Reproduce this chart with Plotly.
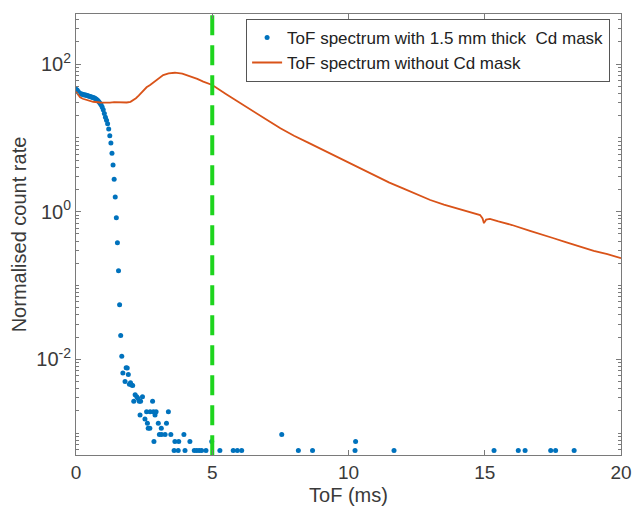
import plotly.graph_objects as go

# ---- Data ----
# ToF spectrum WITH 1.5 mm Cd mask (blue dots)
mask_t = [0.00, 0.04, 0.08, 0.12, 0.16, 0.20, 0.24, 0.28, 0.32, 0.36, 0.40, 0.44,
          0.48, 0.52, 0.56, 0.60, 0.64, 0.68, 0.72, 0.76, 0.80, 0.84, 0.88, 0.92,
          0.96, 1.00, 1.04, 1.08, 1.12, 1.16, 1.20, 1.24, 1.28, 1.32, 1.36, 1.40,
          1.44, 1.48, 1.52, 1.56, 1.60, 1.64, 1.68,
          1.72, 1.80, 1.84, 1.88, 1.92, 1.96, 2.00, 2.04, 2.08, 2.12, 2.17, 2.23,
          2.28, 2.32, 2.35, 2.37, 2.44, 2.53, 2.59, 2.62, 2.65, 2.71, 2.72, 2.81,
          2.84, 2.86, 2.90, 2.94, 3.02, 3.06, 3.13, 3.14, 3.27, 3.32, 3.39, 3.48,
          3.60, 3.63, 3.75, 3.77, 3.96, 4.00, 4.18, 4.34, 4.43, 4.52, 4.61, 4.77,
          4.98, 5.28, 5.77, 5.92, 6.08, 7.55, 8.16, 8.68, 10.24, 10.26, 11.67,
          15.34, 16.23, 16.48, 17.42, 17.60, 18.28]
mask_rate = [45.7, 44.7, 42.7, 40.7, 39.8, 39.4, 38.9, 38.5, 38.0, 38.0, 37.6, 37.2,
             36.7, 36.3, 35.9, 35.5, 35.1, 34.7, 33.9, 33.1, 32.0, 30.9, 29.5, 28.2,
             26.3, 24.0, 21.4, 19.1, 17.4, 15.5, 13.2, 10.7, 8.5, 6.2, 4.3, 2.75,
             1.58, 0.83, 0.38, 0.158, 0.055, 0.021, 0.011,
             6.5e-3, 5.0e-3, 7.7e-3, 7.6e-3, 6.2e-3, 4.6e-3, 4.8e-3, 4.5e-3, 4.4e-3,
             2.7e-3, 3.3e-3, 3.1e-3,
             2.95e-3, 2.7e-3, 1.76e-3, 2.7e-3, 3.1e-3, 1.55e-3, 1.95e-3, 1.36e-3,
             1.16e-3, 1.16e-3, 1.95e-3, 2.7e-3,
             1.95e-3, 7.7e-4, 1.76e-3, 1.95e-3, 1.36e-3, 9.6e-4, 1.16e-3, 9.6e-4,
             9.6e-4, 1.36e-3, 1.95e-3, 9.6e-4,
             5.8e-4, 7.7e-4, 5.8e-4, 7.7e-4, 9.6e-4, 5.8e-4, 7.7e-4, 5.8e-4, 5.8e-4,
             5.8e-4, 5.8e-4, 5.8e-4,
             7.7e-4, 5.8e-4, 5.8e-4, 5.8e-4, 5.8e-4, 9.6e-4, 5.8e-4, 5.8e-4, 5.8e-4,
             7.7e-4, 5.8e-4,
             5.8e-4, 5.8e-4, 5.8e-4, 5.8e-4, 5.8e-4, 5.8e-4]

# ToF spectrum WITHOUT Cd mask (orange line)
open_t = [0.00, 0.08, 0.15, 0.25, 0.39, 0.50, 0.63, 0.88, 1.00, 1.25, 1.40, 1.61,
          1.86, 2.00, 2.10, 2.20, 2.30, 2.45, 2.59, 2.72, 3.00, 3.20, 3.40, 3.63,
          3.90, 4.18, 4.45, 4.67, 5.00, 5.50, 6.00, 6.50, 7.00, 7.50, 8.00, 8.50,
          9.00, 9.50, 10.00, 10.50, 11.00, 11.50, 12.00, 12.50, 13.00, 13.50, 14.00,
          14.50, 14.83, 14.92, 14.97, 15.05, 15.19, 15.50, 16.00, 16.66, 17.00,
          17.50, 18.00, 18.50, 19.00, 19.50, 19.84, 20.00]
open_rate = [42.3, 38.5, 35.5, 33.9, 32.7, 31.6, 30.9, 30.2, 30.1, 30.0, 30.5, 30.2,
             30.2, 30.8, 32.2, 34.5, 37.5, 43.0, 48.5, 52.1, 63.1, 71.1, 75.0, 76.4,
             74.1, 69.0, 63.1, 57.8, 52.1, 39.4, 29.9, 22.9, 17.6, 13.5, 10.7, 8.71,
             7.08, 5.75, 4.62, 3.72, 3.02, 2.48, 2.07, 1.72, 1.44, 1.245, 1.10,
             0.977, 0.90, 0.81, 0.70, 0.78, 0.80, 0.74, 0.66, 0.55, 0.507,
             0.44, 0.385, 0.336, 0.295, 0.266, 0.245, 0.234]

cutoff_t = [5, 5]
cutoff_rate = [5e-4, 480]

x_ticks = [0, 5, 10, 15, 20]
y_ticks = [1e-2, 1, 1e2]
y_ticktext = ["10<sup>-2</sup>", "10<sup>0</sup>", "10<sup>2</sup>"]

BLUE = "#0072BD"
ORANGE = "#D95319"
GREEN = "#1ED41E"
AX = "#7a7a7a"
TXT = "#3a3a3a"
FONT = "Liberation Sans, Arial, sans-serif"

fig = go.Figure()
fig.add_trace(go.Scatter(
    x=mask_t, y=mask_rate, mode="markers",
    marker=dict(color=BLUE, size=5),
    name="ToF spectrum with 1.5 mm thick  Cd mask"))
fig.add_trace(go.Scatter(
    x=open_t, y=open_rate, mode="lines",
    line=dict(color=ORANGE, width=1.8),
    name="ToF spectrum without Cd mask"))
fig.add_trace(go.Scatter(
    x=cutoff_t, y=cutoff_rate, mode="lines",
    line=dict(color=GREEN, width=4, dash="20px,10px"),
    showlegend=False, hoverinfo="skip"))

fig.update_layout(
    width=632, height=511,
    margin=dict(l=76, r=11, t=14, b=56),
    paper_bgcolor="white", plot_bgcolor="white",
    font=dict(family=FONT, size=17, color=TXT),
    legend=dict(
        x=0.98, y=0.989, xanchor="right", yanchor="top",
        bgcolor="white", bordercolor="#555555", borderwidth=1,
        font=dict(family=FONT, size=17, color="#222222"),
        tracegroupgap=0, itemsizing="trace",
    ),
    showlegend=True,
)
fig.update_xaxes(
    range=[0, 20], tickvals=x_ticks, ticks="inside", ticklen=5,
    showline=True, linecolor=AX, linewidth=1, mirror="allticks",
    showgrid=False, zeroline=False, tickcolor=AX, automargin=False,
    tickfont=dict(size=19, color=TXT),
    title=dict(text="ToF (ms)", font=dict(size=20, color=TXT), standoff=6),
)
fig.update_yaxes(
    type="log", range=[-3.297, 2.679], tickvals=y_ticks, ticktext=y_ticktext,
    ticks="inside", ticklen=5,
    showline=True, linecolor=AX, linewidth=1, mirror="allticks",
    showgrid=False, zeroline=False, tickcolor=AX, automargin=False,
    minor=dict(ticks="inside", ticklen=3, dtick="D1", tickcolor=AX, showgrid=False),
    tickfont=dict(size=20, color=TXT),
    title=dict(text="Normalised count rate", font=dict(size=20, color=TXT), standoff=4),
)

fig.write_html("out.html")
